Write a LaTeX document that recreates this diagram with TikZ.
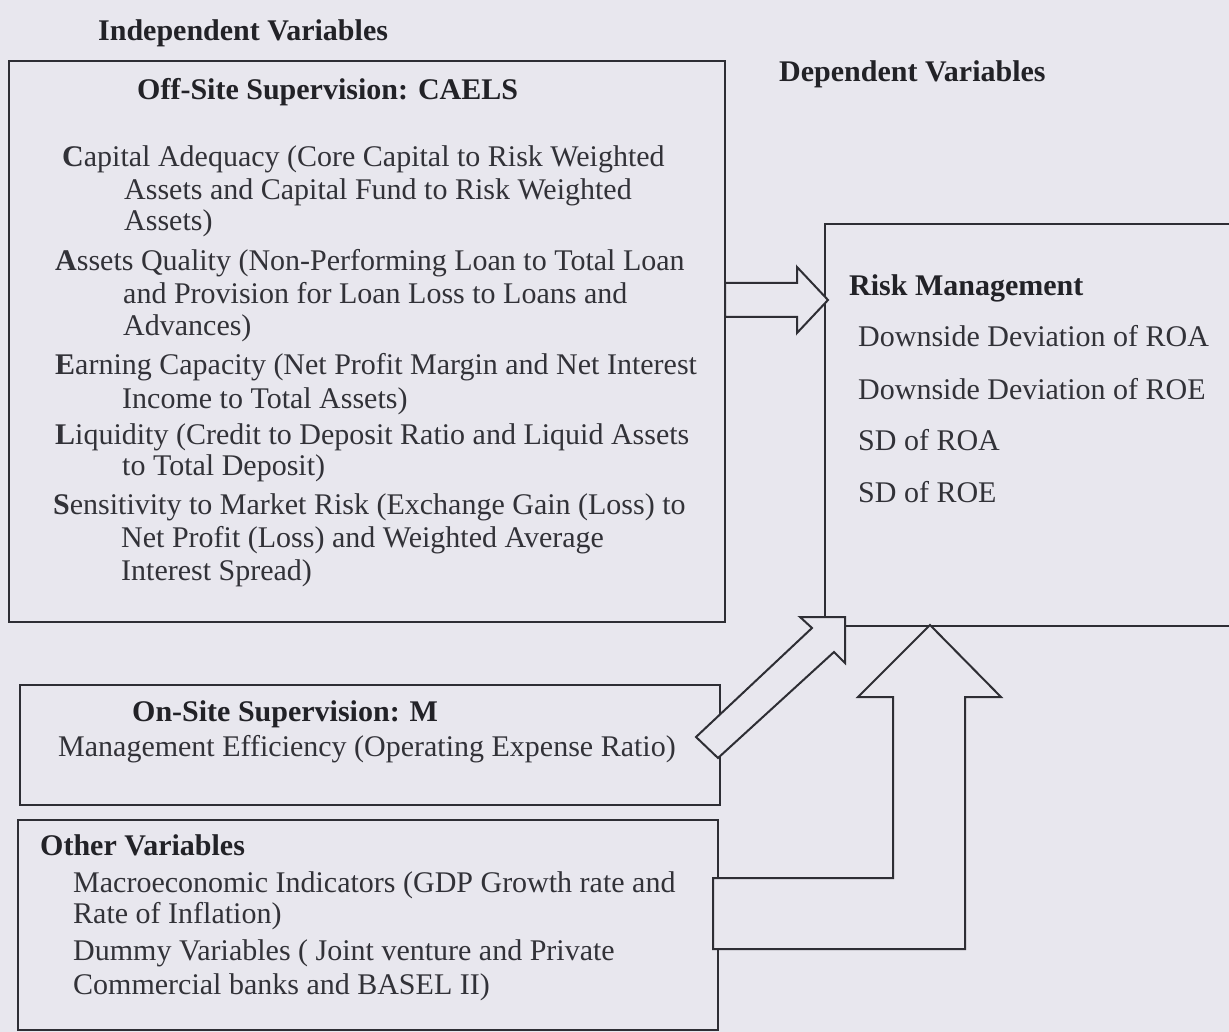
\documentclass[tikz,border=0pt]{standalone}
\usepackage{fontspec}
\setmainfont{Liberation Serif}
\definecolor{bg}{HTML}{E8E7EE}
\definecolor{ln}{HTML}{2E2E34}
\definecolor{tx}{HTML}{323238}
\definecolor{hx}{HTML}{222227}
\begin{document}
\begin{tikzpicture}[x=1pt,y=-1pt,
  txt/.style={anchor=base west, inner sep=0pt, text=tx, font=\fontsize{30}{34}\selectfont},
  hd/.style={anchor=base west, inner sep=0pt, text=hx, font=\fontsize{30}{34}\selectfont\bfseries},
  box/.style={draw=ln, line width=2pt},
  blk/.style={draw=ln, fill=bg, line width=2pt, line join=miter}]
\fill[bg] (0,0) rectangle (1229,1032);
\useasboundingbox (0,0) rectangle (1229,1032);
\clip (0,0) rectangle (1229,1032);

% boxes
\draw[box] (9,61) rectangle (725,622);
\draw[box] (825,224) rectangle (1260,626);
\draw[box] (20,685) rectangle (720,805);
\draw[box] (18,820) rectangle (718,1030);

% block arrows
\draw[blk] (725,283) -- (797,283) -- (797,267) -- (828,300) -- (797,333) -- (797,317) -- (725,317) -- cycle;
\draw[blk] (696,737) -- (812,628) -- (800,617) -- (845,617) -- (845,663) -- (834,652) -- (718,758) -- cycle;
\draw[blk] (930,625) -- (1001,697) -- (965,697) -- (965,949) -- (713,949) -- (713,878) -- (893,878) -- (893,697) -- (858,697) -- cycle;

% headings
\node[hd] (indep) at (98,41) {Independent Variables};
\node[hd] (dep) at (779,82) {Dependent Variables};
\node[hd] (offh) at (137,100) {Off-Site Supervision: CAELS};

% CAELS
\node[txt] (c1) at (62,167) {\textbf{C}apital Adequacy (Core Capital to Risk Weighted};
\node[txt] (c2) at (124,200) {Assets and Capital Fund to Risk Weighted};
\node[txt] (c3) at (124,231) {Assets)};
\node[txt] (a1) at (55,271) {\textbf{A}ssets Quality (Non-Performing Loan to Total Loan};
\node[txt] (a2) at (123,304) {and Provision for Loan Loss to Loans and};
\node[txt] (a3) at (123,335) {Advances)};
\node[txt] (e1) at (55,374) {\textbf{E}arning Capacity (Net Profit Margin and Net Interest};
\node[txt] (e2) at (122,408) {Income to Total Assets)};
\node[txt] (l1) at (55,444) {\textbf{L}iquidity (Credit to Deposit Ratio and Liquid Assets};
\node[txt] (l2) at (122,475) {to Total Deposit)};
\node[txt] (s1) at (53,514) {\textbf{S}ensitivity to Market Risk (Exchange Gain (Loss) to};
\node[txt] (s2) at (121,547) {Net Profit (Loss) and Weighted Average};
\node[txt] (s3) at (121,580) {Interest Spread)};

% risk management
\node[hd] (rmh) at (849,296) {Risk Management};
\node[txt] (r1) at (858,347) {Downside Deviation of ROA};
\node[txt] (r2) at (858,399) {Downside Deviation of ROE};
\node[txt] (r3) at (858,450) {SD of ROA};
\node[txt] (r4) at (858,502) {SD of ROE};

% on-site
\node[hd] (onh) at (132,721) {On-Site Supervision: M};
\node[txt] (m1) at (58,756) {Management Efficiency (Operating Expense Ratio)};

% other
\node[hd] (oth) at (40,855) {Other Variables};
\node[txt] (o1) at (73,892) {Macroeconomic Indicators (GDP Growth rate and};
\node[txt] (o2) at (73,923) {Rate of Inflation)};
\node[txt] (o3) at (73,960) {Dummy Variables ( Joint venture and Private};
\node[txt] (o4) at (73,994) {Commercial banks and BASEL II)};
\end{tikzpicture}
\end{document}
